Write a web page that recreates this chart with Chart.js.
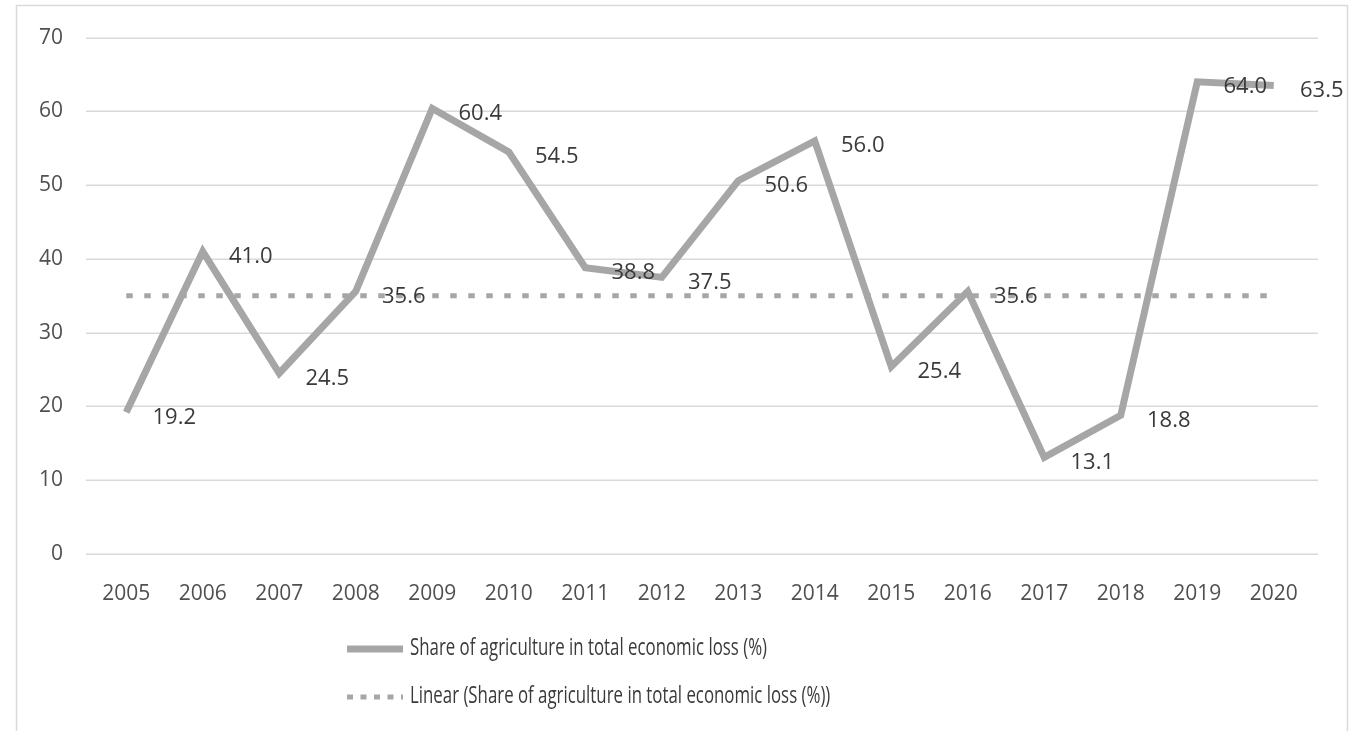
<!DOCTYPE html>
<html>
<head>
<meta charset="utf-8">
<script src="https://cdn.jsdelivr.net/npm/chart.js@4"></script>
<style>
html,body{margin:0;padding:0;background:#fff;}
#wrap{position:relative;width:1363px;height:731px;}
</style>
</head>
<body>
<div id="wrap"><canvas id="c" width="1363" height="731"></canvas></div>
<script>
const years = ['2005','2006','2007','2008','2009','2010','2011','2012','2013','2014','2015','2016','2017','2018','2019','2020'];
const shareValues = [19.2, 41.0, 24.5, 35.6, 60.4, 54.5, 38.8, 37.5, 50.6, 56.0, 25.4, 35.6, 13.1, 18.8, 64.0, 63.5];
const linearTrend = [35.0, 35.0, 35.0, 35.0, 35.0, 35.0, 35.0, 35.0, 35.0, 35.0, 35.0, 35.0, 35.0, 35.0, 35.0, 35.0];
const yTicks = [0, 10, 20, 30, 40, 50, 60, 70];
const seriesNames = ['Share of agriculture in total economic loss (%)', 'Linear (Share of agriculture in total economic loss (%))'];

const GRAY = '#a6a6a6';
const FONT = '"Open Sans", sans-serif';

const framePlugin = {
  id: 'frame',
  beforeDraw(chart) {
    const ctx = chart.ctx;
    ctx.save();
    ctx.fillStyle = '#fff';
    ctx.fillRect(0, 0, chart.width, chart.height);
    ctx.strokeStyle = '#d9d9d9';
    ctx.lineWidth = 1.5;
    ctx.strokeRect(16.5, 5.5, 1331, 800);
    ctx.restore();
  },
  beforeDatasetsDraw(chart) {
    // horizontal gridlines, positioned through the y scale, slightly wider than the category band
    const ctx = chart.ctx;
    const y = chart.scales.y;
    const a = chart.chartArea;
    ctx.save();
    ctx.strokeStyle = '#d9d9d9';
    ctx.lineWidth = 1.5;
    yTicks.forEach(v => {
      const py = Math.round(y.getPixelForValue(v)) + 0.25;
      ctx.beginPath();
      ctx.moveTo(a.left - 2, py);
      ctx.lineTo(a.right + 6, py);
      ctx.stroke();
    });
    ctx.restore();
  }
};

const labelPlugin = {
  id: 'valueLabels',
  afterDatasetsDraw(chart) {
    const ctx = chart.ctx;
    const meta = chart.getDatasetMeta(0);
    ctx.save();
    ctx.font = '22px ' + FONT;
    ctx.fillStyle = '#3a3a3a';
    ctx.textAlign = 'center';
    ctx.textBaseline = 'middle';
    meta.data.forEach((pt, i) => {
      ctx.fillText(shareValues[i].toFixed(1), pt.x + 48, pt.y + 5);
    });
    ctx.restore();
  }
};

const legendPlugin = {
  id: 'customLegend',
  afterDraw(chart) {
    const ctx = chart.ctx;
    ctx.save();
    const x0 = 347, x1 = 403, tx = 410;
    const rows = [649, 697];
    ctx.strokeStyle = GRAY;
    ctx.lineWidth = 7;
    ctx.beginPath(); ctx.moveTo(x0, rows[0]); ctx.lineTo(x1, rows[0]); ctx.stroke();
    ctx.lineWidth = 5;
    ctx.setLineDash([6, 7.5]);
    ctx.beginPath(); ctx.moveTo(x0, rows[1]); ctx.lineTo(x1, rows[1]); ctx.stroke();
    ctx.setLineDash([]);
    ctx.fillStyle = '#3a3a3a';
    ctx.textBaseline = 'middle';
    ctx.textAlign = 'left';
    ctx.font = '23px ' + FONT;
    const w = ctx.measureText(seriesNames[0]).width;
    const sx = 357 / w;
    seriesNames.forEach((name, i) => {
      ctx.save();
      ctx.translate(tx, rows[i] - 1);
      ctx.scale(sx, 1);
      ctx.fillText(name, 0, 0);
      ctx.restore();
    });
    ctx.restore();
  }
};

new Chart(document.getElementById('c'), {
  type: 'line',
  data: {
    labels: years,
    datasets: [
      {
        label: seriesNames[0],
        data: shareValues,
        borderColor: GRAY,
        borderWidth: 7,
        pointRadius: 0,
        tension: 0,
        fill: false,
        borderJoinStyle: 'miter',
        order: 1
      },
      {
        label: seriesNames[1],
        data: linearTrend,
        borderColor: GRAY,
        borderWidth: 5,
        borderDash: [6.5, 11.5],
        borderCapStyle: 'butt',
        pointRadius: 0,
        tension: 0,
        fill: false,
        order: 2
      }
    ]
  },
  options: {
    responsive: false,
    animation: false,
    layout: { padding: { left: 2, right: 51, top: 37, bottom: 0 } },
    plugins: { legend: { display: false }, tooltip: { enabled: false } },
    scales: {
      x: {
        offset: true,
        grid: { display: false, drawTicks: false },
        border: { display: false },
        ticks: { color: '#505050', font: { family: FONT, size: 21 }, padding: 27, maxRotation: 0, autoSkip: false },
        afterFit(s) { s.height = 731 - 554; }
      },
      y: {
        min: 0, max: 70,
        afterBuildTicks(s) { s.ticks = yTicks.map(v => ({ value: v })); },
        grid: { display: false, drawTicks: false },
        border: { display: false },
        ticks: { color: '#505050', font: { family: FONT, size: 21 }, padding: 25 },
        afterFit(s) { s.width = 86; }
      }
    }
  },
  plugins: [framePlugin, labelPlugin, legendPlugin]
});
</script>
</body>
</html>
